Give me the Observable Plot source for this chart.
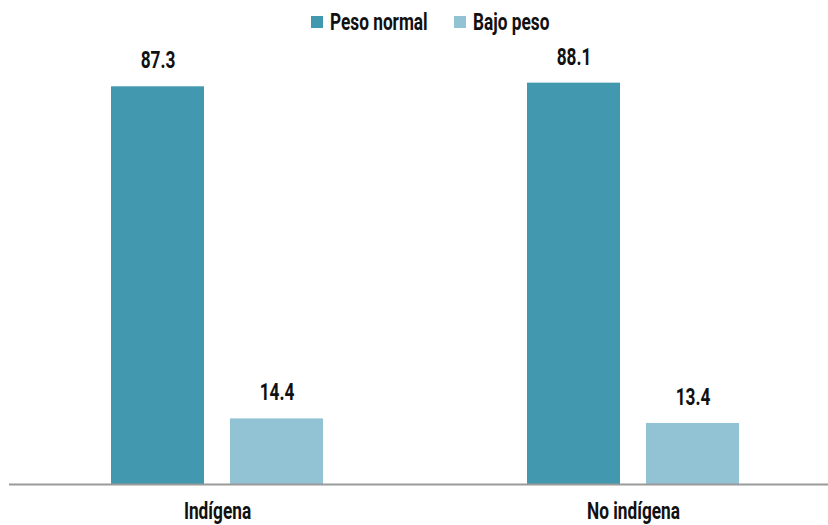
<!DOCTYPE html>
<html>
<head>
<meta charset="utf-8">
<script src="https://cdn.jsdelivr.net/npm/d3@7"></script>
<script src="https://cdn.jsdelivr.net/npm/@observablehq/plot@0.6"></script>
<style>
  html, body { margin: 0; padding: 0; background: #fff; }
  body { width: 828px; height: 525px; overflow: hidden; font-family: Roboto, sans-serif; font-weight: 700; }
  #legend { height: 40px; display: flex; justify-content: center; align-items: center; font-size: 23px; color: #111; box-sizing: border-box; padding-top: 4px; padding-left: 33px; }
  .item { display: flex; align-items: center; margin: 0 13px; }
  .sw { width: 12px; height: 12px; margin-right: 7px; display: inline-block; flex: none; }
  .lbl { display: inline-block; transform-origin: left center; white-space: nowrap; }
  svg text { font-weight: 700; }
</style>
</head>
<body>
<div id="legend"></div>
<div id="chart"></div>
<script>
const groups = ["Indígena", "No indígena"];
const series = ["Peso normal", "Bajo peso"];
const pesoNormal = [87.3, 88.1];
const bajoPeso = [14.4, 13.4];
const colors = ["#4198AF", "#92C3D5"];
const squeeze = 0.75;

const data = [];
groups.forEach((g, i) => {
  data.push({group: g, series: series[0], value: pesoNormal[i]});
  data.push({group: g, series: series[1], value: bajoPeso[i]});
});

const legend = document.getElementById("legend");
series.forEach((s, i) => {
  const it = document.createElement("span");
  it.className = "item";
  it.innerHTML = `<span class="sw" style="background:${colors[i]}"></span><span class="lbl">${s}</span>`;
  legend.appendChild(it);
});
legend.querySelectorAll(".lbl").forEach(el => {
  const w = el.getBoundingClientRect().width;
  el.style.transform = `scaleX(${squeeze})`;
  el.style.marginRight = `${-w * (1 - squeeze)}px`;
});

const chart = Plot.plot({
  width: 828,
  height: 485,
  marginTop: 34,
  marginBottom: 41,
  marginLeft: 0,
  marginRight: 0,
  style: {fontFamily: "Roboto, sans-serif", fontSize: "23px", color: "#111"},
  fx: {domain: groups, range: [8.5, 840.5], padding: 0, label: null, axis: "bottom", tickSize: 0, tickPadding: 18},
  x: {domain: series, paddingInner: 0.2185, paddingOuter: 0.857, axis: null},
  y: {domain: [0, 90], axis: null},
  color: {domain: series, range: colors},
  marks: [
    Plot.barY(data, {fx: "group", x: "series", y: "value", fill: "series"}),
    Plot.ruleY([0], {stroke: "#9a9a9a", strokeWidth: 2}),
    Plot.text(data, {fx: "group", x: "series", y: "value", text: d => d.value.toFixed(1), dy: -26, fontSize: 23, fill: "#111"})
  ]
});
document.getElementById("chart").appendChild(chart);
chart.querySelectorAll("text").forEach(el => {
  const w = el.getComputedTextLength();
  if (w > 0) {
    el.setAttribute("textLength", w * squeeze);
    el.setAttribute("lengthAdjust", "spacingAndGlyphs");
  }
});
</script>
</body>
</html>
